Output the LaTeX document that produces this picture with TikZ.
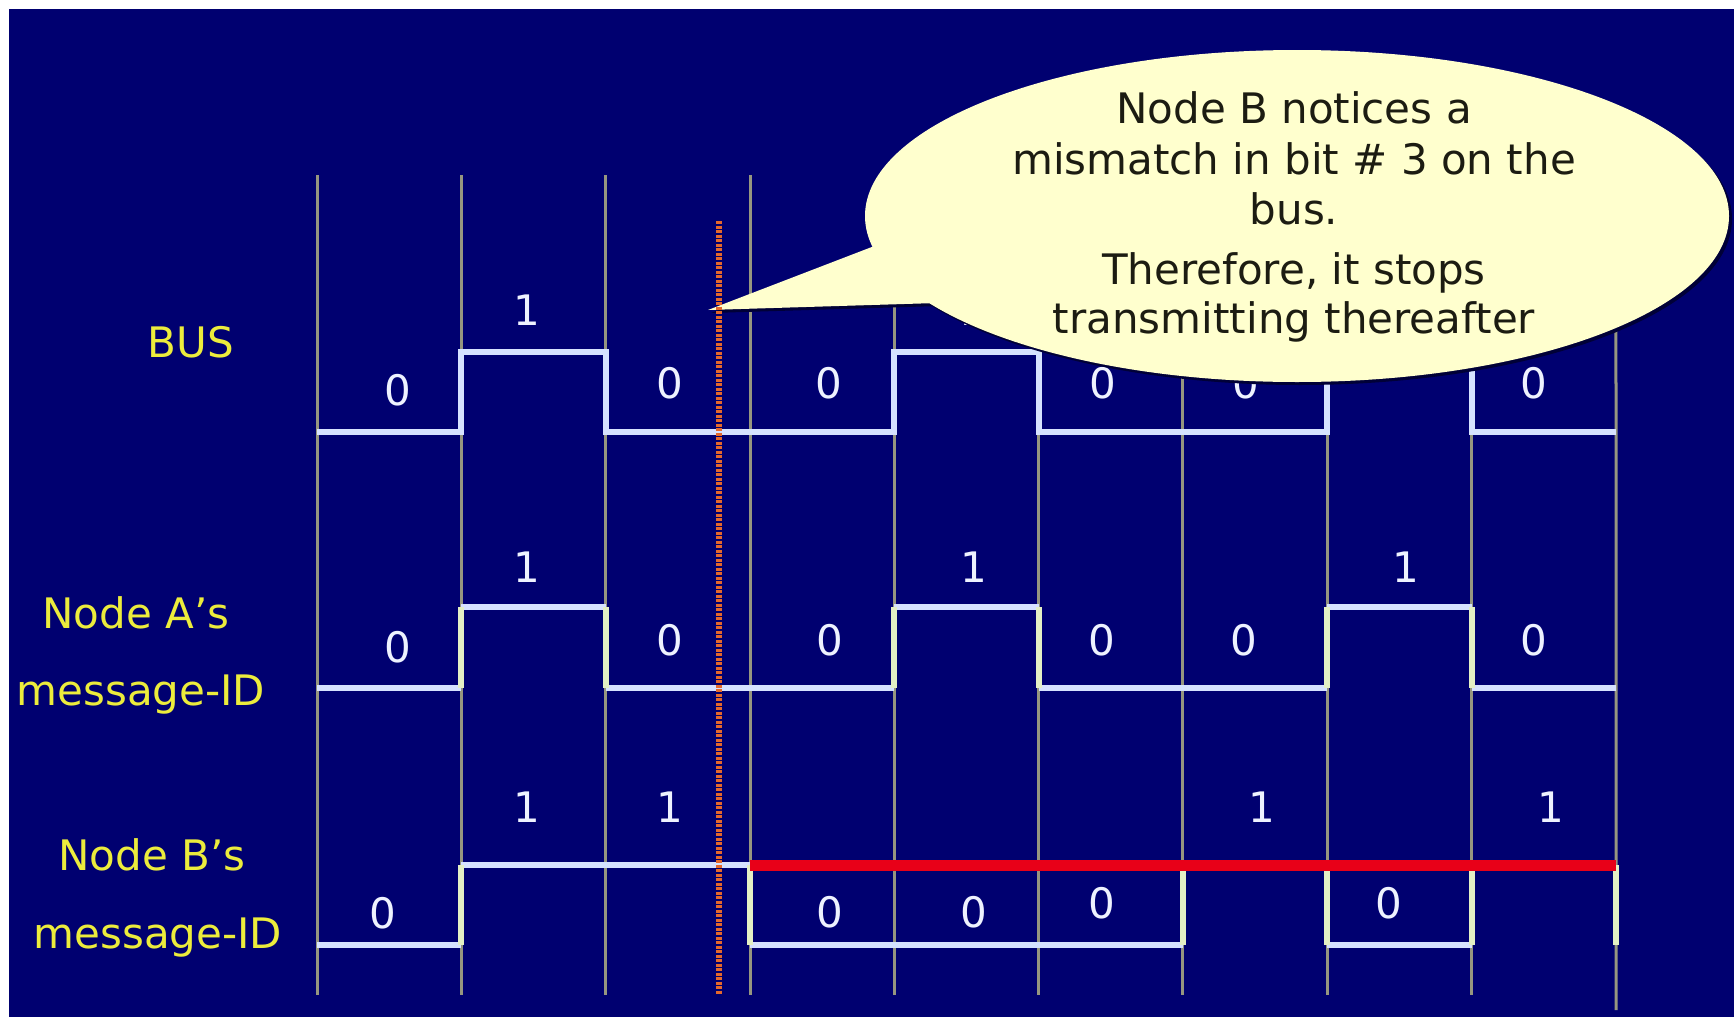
\documentclass[tikz,border=0pt]{standalone}
\usepackage{fontspec}
\setmainfont{DejaVu Sans}
\definecolor{navy}{RGB}{0,0,112}
\definecolor{gridgray}{RGB}{150,150,128}
\definecolor{hcol}{RGB}{214,226,255}
\definecolor{vcol}{RGB}{228,240,196}
\definecolor{labyellow}{RGB}{236,236,60}
\definecolor{bitwhite}{RGB}{238,242,255}
\definecolor{bubfill}{RGB}{255,255,206}
\definecolor{bubshadow}{RGB}{0,0,55}
\definecolor{bubtext}{RGB}{28,28,18}
\definecolor{errred}{RGB}{232,0,24}
\definecolor{markorange}{RGB}{228,104,44}
\begin{document}
\begin{tikzpicture}[x=1pt,y=-1pt,
  gridline/.style={draw=gridgray, line width=3pt},
  hwave/.style={draw=hcol, line width=6pt, line cap=square},
  vwave/.style={draw=vcol, line width=6pt, line cap=square},
  bigfont/.style={font=\fontsize{42}{50}\selectfont},
  rowlabel/.style={bigfont, text=labyellow, anchor=base, inner sep=0pt},
  bitlabel/.style={bigfont, text=bitwhite, anchor=base, inner sep=0pt},
  bubtxt/.style={bigfont, text=bubtext, anchor=base, inner sep=0pt, text height=30pt, text depth=8pt}]
% background
\fill[white] (0,0) rectangle (1734,1017);
\fill[navy] (9,9) rectangle (1734,1017);
\useasboundingbox (0,0) rectangle (1734,1017);

% grid lines
\foreach \i in {0,...,9} {
  \coordinate (gt\i) at ({317+144.33*\i},175);
  \coordinate (gb\i) at ({317+144.33*\i},995);
}
\coordinate (gb9) at (1616,1010);
\foreach \i in {0,...,9} { \draw[gridline] (gt\i) -- (gb\i); }

% BUS waveform (H=352, L=432)
\def\BH{352}\def\BL{432}
\draw[hwave] (gt0|-0,\BL) -- (gt1|-0,\BL) -- (gt1|-0,\BH) -- (gt2|-0,\BH) -- (gt2|-0,\BL)
  -- (gt4|-0,\BL) -- (gt4|-0,\BH) -- (gt5|-0,\BH) -- (gt5|-0,\BL) -- (gt7|-0,\BL)
  -- (gt7|-0,\BH) -- (gt8|-0,\BH) -- (gt8|-0,\BL) -- (gt9|-0,\BL);

% Node A waveform (H=607, L=688)
\def\AH{607}\def\AL{688}
\foreach \a/\b/\y in {0/1/\AL,1/2/\AH,2/4/\AL,4/5/\AH,5/7/\AL,7/8/\AH,8/9/\AL}
  \draw[hwave] (gt\a|-0,\y) -- (gt\b|-0,\y);
\foreach \k in {1,2,4,5,7,8}
  \draw[vwave] (gt\k|-0,\AH) -- (gt\k|-0,\AL);

% Node B waveform (H=865, L=945)
\def\CH{865}\def\CL{945}
\foreach \a/\b/\y in {0/1/\CL,1/3/\CH,3/6/\CL,6/7/\CH,7/8/\CL,8/9/\CH}
  \draw[hwave] (gt\a|-0,\y) -- (gt\b|-0,\y);
\foreach \k in {1,3,6,7,8,9}
  \draw[vwave] (gt\k|-0,\CH) -- (gt\k|-0,\CL);
\draw[errred, line width=11pt] (gt3|-0,\CH) -- (gt9|-0,\CH);

% bit labels
\foreach \x/\y/\t [count=\n] in {398/405/0,527/325/1,670/398/0,829/398/0,973/325/1,1103/398/0,1246/398/0,1404/325/1,1534/398/0}
  \node[bitlabel] (bus\n) at (\x,\y) {\t};
\foreach \x/\y/\t [count=\n] in {398/662/0,527/582/1,670/655/0,830/655/0,974/582/1,1102/655/0,1244/655/0,1406/582/1,1534/655/0}
  \node[bitlabel] (na\n) at (\x,\y) {\t};
\foreach \x/\y/\t [count=\n] in {383/928/0,527/822/1,670/822/1,830/927/0,974/927/0,1102/918/0,1262/822/1,1389/918/0,1551/822/1}
  \node[bitlabel] (nb\n) at (\x,\y) {\t};

% callout bubble
\coordinate (tip) at (708,310);
\coordinate (bc) at (1297,216);
\fill[bubshadow] ([shift={(3,3)}]bc) ellipse [x radius=432pt, y radius=166pt];
\fill[bubshadow] ([shift={(3,3)}]tip) -- (880,248) -- (940,306) -- cycle;
\fill[bubfill] (bc) ellipse [x radius=432pt, y radius=166pt];
\fill[bubfill] (tip) -- (877,245) -- (937,303) -- cycle;
\node[bubtxt] (t1) at (1294,123) {Node B notices a};
\node[bubtxt] (t2) at (1294,174) {mismatch in bit \# 3 on the};
\node[bubtxt] (t3) at (1294,224) {bus.};
\node[bubtxt] (t4) at (1294,284) {Therefore, it stops};
\node[bubtxt] (t5) at (1294,333) {transmitting thereafter};

% orange marker line
\coordinate (mt) at (719,221);
\coordinate (mb) at (719,995);
\draw[markorange, line width=6pt, dash pattern=on 3pt off 1.5pt] (mt) -- (mb);

% row labels
\node[rowlabel] (lbus) at (191,357) {BUS};
\node[rowlabel] (la1) at (136,628) {Node A’s};
\node[rowlabel] (la2) at (141,705) {message-ID};
\node[rowlabel] (lb1) at (152,870) {Node B’s};
\node[rowlabel] (lb2) at (158,948) {message-ID};
\end{tikzpicture}
\end{document}
